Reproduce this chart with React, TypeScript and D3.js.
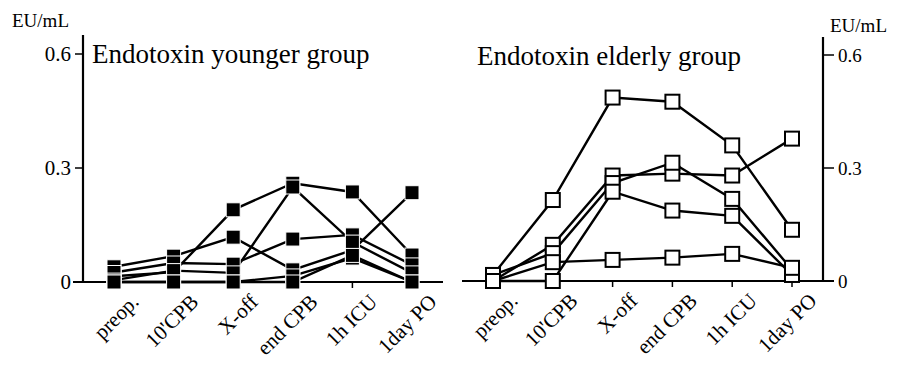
import React from 'react'
import * as d3 from 'd3'

// time points (x axis)
const timePoints = ['preop.', "10'CPB", 'X-off', 'end CPB', '1h ICU', '1day PO']
const yTicks = [0, 0.3, 0.6]
const yTickLabels = ['0', '0.3', '0.6']

// endotoxin, younger group (EU/mL), one array per patient
const young1 = [0.04, 0.068, 0.118, 0.032, 0.084, 0.235]
const young2 = [0.015, 0.026, 0.19, 0.26, 0.237, 0.071]
const young3 = [0.025, 0.05, 0.047, 0.113, 0.124, 0.045]
const young4 = [0.005, 0.03, 0.024, 0.25, 0.105, 0.024]
const young5 = [0, 0, 0, 0.016, 0.063, 0]
const young6 = [0, 0, 0, 0, 0.07, 0]

// endotoxin, elderly group (EU/mL)
const old1 = [0.016, 0.215, 0.487, 0.476, 0.36, 0.136]
const old2 = [0, 0.096, 0.28, 0.285, 0.28, 0.378]
const old3 = [0.016, 0.074, 0.26, 0.314, 0.218, 0.03]
const old4 = [0, 0, 0.237, 0.187, 0.173, 0.016]
const old5 = [0, 0.05, 0.056, 0.062, 0.072, 0.035]

const youngSeries = [young1, young2, young3, young4, young5, young6]
const oldSeries = [old1, old2, old3, old4, old5]

const FONT = '"Liberation Serif", "Times New Roman", serif'

const Panel = ({ series, x, y, filled, title, titleX, axisX, axisTop, baseFrom, baseTo, side }) => {
  const line = d3.line<number>()
    .x((_, i) => x(timePoints[i]))
    .y(d => y(d))
  const y0 = y(0)
  const size = 14
  const labelX = side === 'left' ? axisX - 12 : axisX + 15
  return (
    <g>
      {/* baseline and y axis */}
      <line x1={baseFrom} x2={baseTo} y1={y0} y2={y0} stroke="#000" strokeWidth={2.2} />
      <line x1={axisX} x2={axisX} y1={axisTop} y2={y0} stroke="#000" strokeWidth={2.2} />
      {yTicks.filter(t => t > 0).map(t => (
        <line key={t} x1={axisX} x2={side === 'left' ? axisX - 8 : axisX + 11}
          y1={y(t)} y2={y(t)} stroke="#000" strokeWidth={1.5} />
      ))}
      {yTicks.map((t, i) => (
        <text key={t} x={labelX} y={y(t)} dy="0.35em"
          textAnchor={side === 'left' ? 'end' : 'start'}
          fontFamily={FONT} fontSize={side === 'left' ? 21 : 19}>{yTickLabels[i]}</text>
      ))}
      <text x={side === 'left' ? 12 : 830} y={side === 'left' ? 27 : 32}
        fontFamily={FONT} fontSize={19}>EU/mL</text>
      <text x={titleX} y={side === 'left' ? 63 : 65} fontFamily={FONT} fontSize={27}>{title}</text>

      {/* x ticks and rotated labels */}
      {timePoints.map(c => (
        <g key={c}>
          <line x1={x(c)} x2={x(c)} y1={y0} y2={y0 + 6} stroke="#000" strokeWidth={1.5} />
          <text transform={`translate(${x(c) + 26},${y0 + 21}) rotate(-45)`} textAnchor="end"
            fontFamily={FONT} fontSize={21}>{c}</text>
        </g>
      ))}

      {/* patient lines */}
      {series.map((s, k) => (
        <path key={k} d={line(s)} fill="none" stroke="#000" strokeWidth={2.4} />
      ))}
      {series.map((s, k) => s.map((v, i) => (
        <rect key={`${k}-${i}`} x={x(timePoints[i]) - size / 2} y={y(v) - size / 2}
          width={size} height={size}
          fill={filled ? '#000' : '#fff'}
          stroke={filled ? '#fff' : '#000'} strokeWidth={filled ? 1 : 2} />
      )))}
    </g>
  )
}

export default function App () {
  const xLeft = d3.scalePoint<string>().domain(timePoints).range([114, 412])
  const xRight = d3.scalePoint<string>().domain(timePoints).range([493, 792])
  const yLeft = d3.scaleLinear().domain([0, 0.6]).range([282, 54])
  const yRight = d3.scaleLinear().domain([0, 0.6]).range([281, 55])

  return (
    <svg width={898} height={369} style={{ position: 'absolute', left: 0, top: 0, background: '#fff' }}>
      <Panel series={youngSeries} x={xLeft} y={yLeft} filled title="Endotoxin younger group"
        titleX={92} axisX={83} axisTop={35} baseFrom={73} baseTo={443} side="left" />
      <Panel series={oldSeries} x={xRight} y={yRight} filled={false} title="Endotoxin elderly group"
        titleX={477} axisX={823} axisTop={37} baseFrom={462} baseTo={834} side="right" />
    </svg>
  )
}
